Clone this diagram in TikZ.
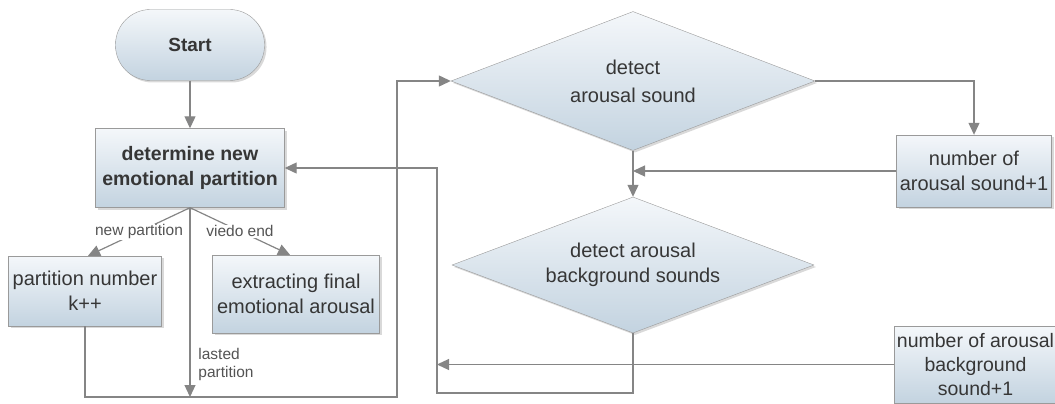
\documentclass[tikz,border=0pt]{standalone}
\usepackage{fontspec}
\setmainfont{Liberation Sans}
\usetikzlibrary{shapes.geometric, arrows.meta, positioning, shadows}
\definecolor{boxtop}{HTML}{F4F7FA}
\definecolor{boxbot}{HTML}{C3D3E0}
\definecolor{edgegray}{HTML}{9A9A9A}
\definecolor{linegray}{HTML}{858585}
\definecolor{txtgray}{HTML}{363636}

\begin{document}
\begin{tikzpicture}[x=1pt, y=-1pt, node distance=123pt]
        % Define block styles
        \tikzstyle{startstop} = [rectangle, rounded corners=35pt, minimum width=149pt, minimum height=71pt, text centered, draw=edgegray, top color=boxtop, bottom color=boxbot, drop shadow={shadow xshift=2pt, shadow yshift=-2pt, opacity=0.3}, text=txtgray, font=\bfseries\fontsize{19}{23}\selectfont]
        \tikzstyle{process} = [rectangle, inner sep=2pt, align=center, draw=edgegray, top color=boxtop, bottom color=boxbot, drop shadow={shadow xshift=2pt, shadow yshift=-2pt, opacity=0.3}, text=txtgray, font=\fontsize{20}{25}\selectfont]
        \tikzstyle{decision} = [diamond, aspect=2.6, inner sep=0pt, minimum width=364pt, minimum height=139pt, align=center, draw=edgegray, top color=boxtop, bottom color=boxbot, drop shadow={shadow xshift=2pt, shadow yshift=-2pt, opacity=0.3}, text=txtgray, font=\fontsize{20}{25}\selectfont]
        \tikzstyle{lbl} = [text=txtgray!85, font=\fontsize{15.5}{18}\selectfont]
        \tikzstyle{arrow} = [draw=linegray, line width=1.2pt, -{Triangle[length=12pt, width=11pt]}]

        \clip (0,0) rectangle (1055,404);

        % Nodes
        \node (start) [startstop] at (190,45) {Start};
        \node (det) [process, below of=start, minimum width=189pt, minimum height=79pt, font=\bfseries\fontsize{19.5}{25}\selectfont] {determine new\\emotional partition};
        \node (part) [process, below of=det, xshift=-105pt, minimum width=153pt, minimum height=70pt] {partition number\\k++};
        \node (ext) [process, below of=det, xshift=106pt, yshift=-3pt, minimum width=167pt, minimum height=78pt] {extracting final\\emotional arousal};
        \node (d1) [decision] at (633,81) {detect\\[3pt]arousal sound};
        \node (d2) [decision, below of=d1, yshift=-61pt, minimum width=362pt, minimum height=136pt] {detect arousal\\background sounds};
        \node (cnt1) [process, minimum width=155pt, minimum height=72pt] at (974,171) {number of\\arousal sound+1};
        \node (cnt2) [process, minimum width=163pt, minimum height=77pt, font=\fontsize{19.5}{24}\selectfont] at (975.5,364.5) {number of arousal\\background\\sound+1};
        \coordinate (ra) at (397,397);
        \coordinate (rb) at (437,393);

        % Arrows
        \draw [arrow] (start) -- (det);
        \draw [arrow] (det.south) -- node[lbl, fill=white, inner sep=1pt] {new partition} ([xshift=3pt]part.north);
        \draw [arrow] (det.south) -- node[lbl, fill=white, inner sep=1pt] {viedo end} ([xshift=-6pt]ext.north);
        \draw [arrow] (det.south) -- node[lbl, pos=0.826, anchor=west, xshift=4.5pt, align=left] {lasted\\partition} (det.south |- ra);
        \draw [arrow] (part.south) |- (ra) |- (d1.west);
        \draw [arrow] (d1.east) -| (cnt1.north);
        \draw [arrow] (d1.south) -- (d2.north);
        \draw [arrow] (cnt1.west) -- (cnt1.west -| d1.south);

        % The loop back
        \draw [arrow] (d2.south) |- (rb) |- (det.east);
        \draw [arrow] (cnt2.west) -- (cnt2.west -| rb);
    \end{tikzpicture}
\end{document}
